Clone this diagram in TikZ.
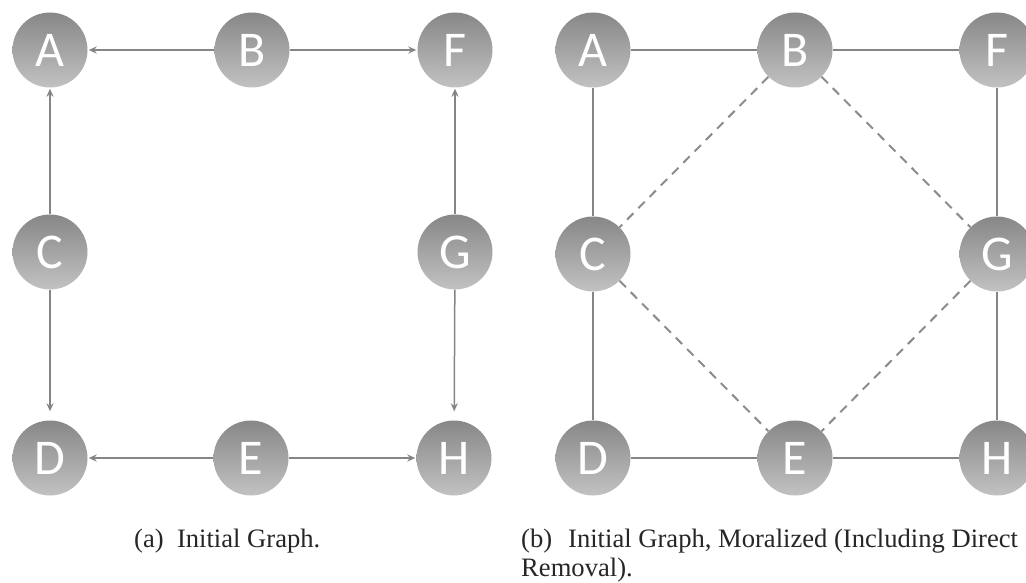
\documentclass[tikz,border=0pt]{standalone}
\usepackage{fontspec}
\setmainfont{Liberation Serif}
\newfontfamily\ballfont{Carlito}
\usetikzlibrary{arrows.meta}
\begin{document}
\begin{tikzpicture}[x=1pt,y=-1pt,
  ball/.style={circle, minimum size=75pt, inner sep=0pt,
    top color=black!47, bottom color=black!24, draw=none,
    text=white, font=\ballfont\fontsize{50}{50}\selectfont},
  link/.style={draw=black!48, line width=1.5pt},
  arr/.style={link, -{Stealth[length=8pt,width=7pt]}, shorten >=1pt},
  moral/.style={draw=black!45, line width=2pt, dash pattern=on 9pt off 7pt},
  captext/.style={anchor=base west, inner sep=0pt, text=black!85,
    font=\fontsize{26.6}{33}\selectfont}]
\useasboundingbox (0,0) rectangle (1026,583);
\clip (0,0) rectangle (1026,583);
\fill[white] (0,0) rectangle (1026,583);

% ---- (a) directed graph ----
\node[ball] (aA) at (50,50)  {A};
\node[ball] (aB) at (252,50) {B};
\node[ball] (aF) at (455,50) {F};
\node[ball] (aC) at (50,252) {C};
\node[ball] (aG) at (455,252) {G};
\node[ball] (aD) at (50,458) {D};
\node[ball] (aE) at (251,458) {E};
\node[ball] (aH) at (454,458) {H};

\draw[arr] (aB) -- (aA);
\draw[arr] (aB) -- (aF);
\draw[arr] (aC) -- (aA);
\draw[arr] (aG) -- (aF);
\draw[arr, shorten >=9pt] (aC) -- (aD);
\draw[arr, shorten >=9pt] (aG) -- (aH);
\draw[arr] (aE) -- (aD);
\draw[arr] (aE) -- (aH);

% ---- (b) moralized graph ----
\node[ball] (bA) at (593,50)  {A};
\node[ball] (bB) at (795,50)  {B};
\node[ball] (bF) at (997,50)  {F};
\node[ball] (bC) at (593,254) {C};
\node[ball] (bG) at (997,254) {G};
\node[ball] (bD) at (593,458) {D};
\node[ball] (bE) at (795,458) {E};
\node[ball] (bH) at (997,458) {H};

\draw[link] (bA) -- (bB);
\draw[link] (bB) -- (bF);
\draw[link] (bA) -- (bC);
\draw[link] (bF) -- (bG);
\draw[link] (bC) -- (bD);
\draw[link] (bG) -- (bH);
\draw[link] (bD) -- (bE);
\draw[link] (bE) -- (bH);
\draw[moral] (bB) -- (bC);
\draw[moral] (bB) -- (bG);
\draw[moral] (bC) -- (bE);
\draw[moral] (bG) -- (bE);

% ---- captions ----
\node[captext] (capA) at (134,547) {(a)\enspace Initial Graph.};
\node[captext] (capB1) at (521,547) {(b)\hspace{0.35em} Initial Graph, Moralized (Including Direct};
\node[captext] (capB2) at (521,576) {Removal).};
\end{tikzpicture}
\end{document}
